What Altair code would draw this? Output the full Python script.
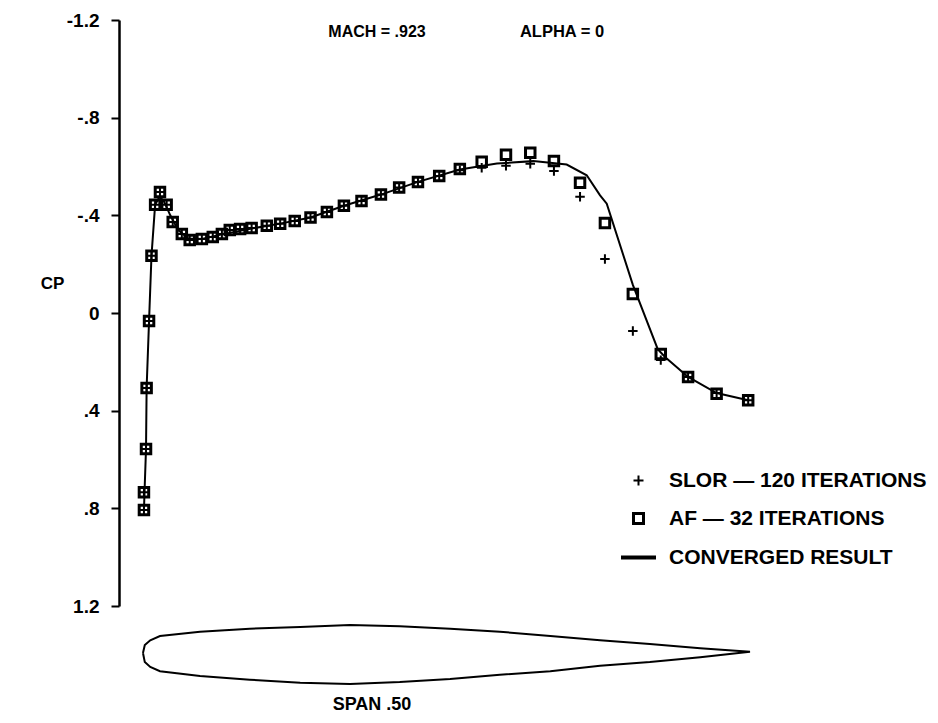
import altair as alt
import pandas as pd

# ---------------- data ----------------
SERIES = ["SLOR \u2014 120 ITERATIONS", "AF \u2014 32 ITERATIONS", "CONVERGED RESULT"]

AF_X = [0.0016, 0.0016, 0.005, 0.006, 0.010, 0.014, 0.020, 0.028, 0.039, 0.049,
        0.064, 0.077, 0.097, 0.115, 0.130, 0.143, 0.160, 0.179, 0.204, 0.226,
        0.250, 0.276, 0.303, 0.331, 0.360, 0.392, 0.422, 0.453, 0.488, 0.522,
        0.558, 0.598, 0.638, 0.677, 0.720, 0.761, 0.807, 0.853, 0.898, 0.945, 0.997]
AF_CP = [0.807, 0.734, 0.557, 0.307, 0.033, -0.234, -0.443, -0.496, -0.443, -0.373,
         -0.324, -0.299, -0.303, -0.311, -0.324, -0.340, -0.344, -0.348, -0.357, -0.366,
         -0.377, -0.391, -0.414, -0.439, -0.459, -0.485, -0.514, -0.537, -0.561, -0.590,
         -0.619, -0.648, -0.656, -0.623, -0.533, -0.369, -0.078, 0.168, 0.262, 0.331, 0.357]

SLOR_X = [0.0016, 0.0016, 0.005, 0.006, 0.010, 0.014, 0.020, 0.028, 0.039, 0.049,
          0.064, 0.077, 0.097, 0.115, 0.130, 0.143, 0.160, 0.179, 0.204, 0.226,
          0.250, 0.276, 0.303, 0.331, 0.360, 0.392, 0.422, 0.453, 0.488, 0.522,
          0.558, 0.598, 0.638, 0.677, 0.720, 0.761, 0.807, 0.853, 0.898, 0.945, 0.997]
SLOR_CP = [0.807, 0.734, 0.557, 0.307, 0.033, -0.234, -0.443, -0.496, -0.443, -0.373,
           -0.324, -0.299, -0.303, -0.311, -0.324, -0.340, -0.344, -0.348, -0.357, -0.366,
           -0.377, -0.391, -0.414, -0.439, -0.459, -0.485, -0.514, -0.537, -0.561, -0.585,
           -0.595, -0.603, -0.611, -0.582, -0.476, -0.221, 0.074, 0.193, 0.262, 0.328, 0.357]

LINE_X = [0.0016, 0.003, 0.005, 0.006, 0.010, 0.014, 0.020, 0.027, 0.034, 0.045,
          0.058, 0.075, 0.097, 0.130, 0.179, 0.226, 0.276, 0.331, 0.392, 0.453,
          0.522, 0.583, 0.643, 0.698, 0.731, 0.753, 0.764, 0.807, 0.848, 0.860,
          0.898, 0.945, 0.997]
LINE_CP = [0.807, 0.700, 0.557, 0.307, 0.033, -0.234, -0.443, -0.475, -0.460, -0.400,
           -0.340, -0.305, -0.303, -0.322, -0.346, -0.366, -0.391, -0.439, -0.485, -0.537,
           -0.588, -0.612, -0.622, -0.608, -0.564, -0.482, -0.448, -0.115, 0.148, 0.180,
           0.262, 0.328, 0.357]

# airfoil section outline (x/c, z/c), upper surface LE->TE then lower TE->LE
FOIL_X = [0.0, 0.003, 0.012, 0.028, 0.094, 0.176, 0.259, 0.341, 0.423, 0.506, 0.588,
          0.671, 0.753, 0.835, 0.918, 1.0,
          0.918, 0.835, 0.753, 0.671, 0.588, 0.506, 0.423, 0.341, 0.259, 0.176,
          0.094, 0.028, 0.012, 0.003, 0.0]
FOIL_Z = [0.0, 0.013, 0.021, 0.028, 0.035, 0.040, 0.043, 0.046, 0.044, 0.040, 0.035,
          0.028, 0.021, 0.015, 0.008, 0.002,
          -0.007, -0.015, -0.021, -0.030, -0.036, -0.043, -0.048, -0.051, -0.049, -0.044,
          -0.038, -0.030, -0.023, -0.015, 0.0]

Y_TICKS = [-1.2, -0.8, -0.4, 0.0, 0.4, 0.8, 1.2]
TITLE_LEFT = "MACH = .923"
TITLE_RIGHT = "ALPHA = 0"
FOOT = "SPAN .50"
Y_TITLE = "CP"

# ---------------- tables ----------------
points = pd.DataFrame({
    "x": SLOR_X + AF_X,
    "cp": SLOR_CP + AF_CP,
    "series": [SERIES[0]] * len(SLOR_X) + [SERIES[1]] * len(AF_X),
})
line_df = pd.DataFrame({"x": LINE_X, "cp": LINE_CP, "i": list(range(len(LINE_X)))})
foil_df = pd.DataFrame({"x": FOIL_X, "z": FOIL_Z, "i": list(range(len(FOIL_X)))})

FONT = "Liberation Sans"
PLUS = "M-1,0H1M0,-1V1"
DASH = "M-3.5,0H3.5"

xscale = alt.Scale(domain=[-0.0395, 1.2784], nice=False, zero=False)
yscale = alt.Scale(domain=[-1.2, 1.2], reverse=True, nice=False, zero=False)

yaxis = alt.Axis(
    values=Y_TICKS,
    labelExpr="datum.value == 0 ? '0' : replace(replace(format(datum.value, '.1f'), '0.', '.'), '\u2212', '-')",
    labelFont=FONT, labelFontSize=19, labelFontWeight="bold", labelColor="black",
    labelPadding=12, labelFlush=False, labelOverlap=False,
    domainColor="black", domainWidth=2.5, tickColor="black", tickWidth=2, tickSize=8,
    grid=False,
    title=Y_TITLE, titleAngle=0, titleX=-67, titleY=263, titleAlign="center",
    titleBaseline="middle", titleFont=FONT, titleFontSize=17, titleFontWeight="bold",
    titleColor="black",
)

conv = alt.Chart(line_df).mark_line(color="black", strokeWidth=2).encode(
    x=alt.X("x:Q", scale=xscale, axis=None),
    y=alt.Y("cp:Q", scale=yscale, axis=yaxis),
    order="i:Q",
)

pts = alt.Chart(points).mark_point(filled=False, color="black", opacity=1, size=90).encode(
    x=alt.X("x:Q", scale=xscale, axis=None),
    y=alt.Y("cp:Q", scale=yscale, axis=yaxis),
    shape=alt.Shape(
        "series:N",
        scale=alt.Scale(domain=SERIES, range=[PLUS, "square", DASH]),
        legend=alt.Legend(
            title=None, orient="none", legendX=509, legendY=450,
            labelFont=FONT, labelFontSize=21, labelFontWeight="bold", labelColor="black",
            labelLimit=500, labelOffset=20, rowPadding=16, padding=0,
            symbolSize=100, symbolStrokeWidth=2.5, symbolStrokeColor="black",
            symbolFillColor="transparent",
        ),
    ),
    strokeWidth=alt.StrokeWidth(
        "series:N", scale=alt.Scale(domain=SERIES, range=[2, 4, 2]), legend=None
    ),
)

foil = alt.Chart(foil_df).mark_line(color="black", strokeWidth=2).encode(
    x=alt.X("x:Q", scale=xscale, axis=None),
    y=alt.Y("z:Q", scale=alt.Scale(domain=[-0.06, 0.06], range=[669.4, 596.6], zero=False, nice=False), axis=None),
    order="i:Q",
)

def label(txt, x, y, size):
    return alt.Chart(pd.DataFrame({"t": [txt]})).mark_text(
        font=FONT, fontSize=size, fontWeight="bold", color="black",
        align="center", baseline="middle",
    ).encode(text="t:N", x=alt.value(x), y=alt.value(y))

chart = alt.layer(
    alt.layer(conv, pts),
    foil,
    label(TITLE_LEFT, 258, 12, 16),
    label(TITLE_RIGHT, 443, 12, 16.5),
    label(FOOT, 253, 685, 18),
).resolve_scale(y="independent").properties(
    width=800, height=586,
    autosize=alt.AutoSizeParams(type="none"),
    padding={"left": 119, "top": 20, "right": 19, "bottom": 117},
).configure_view(stroke=None)

chart.save("out.html", embed_options={"renderer": "svg", "actions": False})
